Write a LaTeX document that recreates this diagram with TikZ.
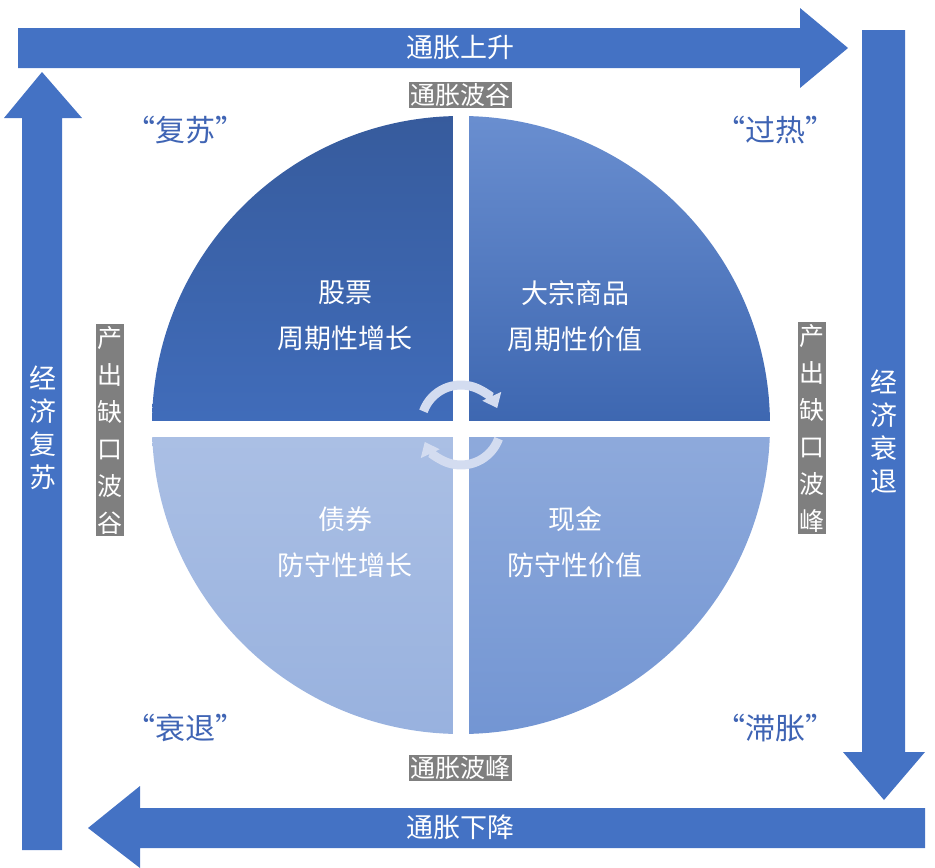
\documentclass[tikz,border=0pt]{standalone}
\usepackage{fontspec}
\setmainfont{Noto Sans CJK SC}
\usetikzlibrary{arrows.meta}
\definecolor{arrowblue}{HTML}{4472C4}
\definecolor{quoteblue}{HTML}{3F64B4}
\definecolor{tagGray}{HTML}{7F7F7F}
\definecolor{ringgray}{HTML}{D3DCF0}
\tikzset{
  bigtext/.style={text=white,font=\fontsize{27}{46}\selectfont,align=center},
  tagbox/.style={fill=tagGray,text=white,inner sep=1.5pt,font=\fontsize{25}{27}\selectfont,align=center},
  quote/.style={text=quoteblue,font=\fontsize{30}{32}\selectfont},
  vtext/.style={text=white,font=\fontsize{27}{33}\selectfont,align=center,inner sep=0pt},
  ring/.style={line width=9pt,ringgray,-{Triangle[length=13pt,width=20pt]}}
}
\begin{document}
\begin{tikzpicture}[x=1pt,y=1pt,yscale=-1]
\useasboundingbox (0,0) rectangle (935,868);
% frame arrows
\fill[arrowblue] (18,28) -- (800,28) -- (800,8) -- (848,48) -- (800,88) -- (800,68) -- (18,68) -- cycle;
\fill[arrowblue] (862,30) -- (905,30) -- (905,752) -- (925,752) -- (884,800) -- (843,752) -- (862,752) -- cycle;
\fill[arrowblue] (925,808) -- (925,848) -- (140,848) -- (140,868) -- (88,828) -- (140,786) -- (140,808) -- cycle;
\fill[arrowblue] (22,850) -- (62,850) -- (62,118) -- (82,118) -- (42,72) -- (4,118) -- (22,118) -- cycle;
\node[bigtext] (up) at (460,48) {通胀上升};
\node[bigtext] (down) at (460,827) {通胀下降};
\node[vtext] (recov) at (43,428) {经\\济\\复\\苏};
\node[vtext] (reces) at (884,432) {经\\济\\衰\\退};
% quadrants
\coordinate (c) at (461,425);
\shade[top color=arrowblue!80!black,bottom color=arrowblue!95!black] (c) -- (152,425) arc[start angle=180,end angle=270,radius=309] -- cycle;
\shade[top color=arrowblue!80,bottom color=arrowblue!90!black] (c) -- (461,116) arc[start angle=270,end angle=360,radius=309] -- cycle;
\shade[top color=arrowblue!45,bottom color=arrowblue!55] (c) -- (152,425) arc[start angle=180,end angle=90,radius=309] -- cycle;
\shade[top color=arrowblue!60,bottom color=arrowblue!75] (c) -- (770,425) arc[start angle=0,end angle=90,radius=309] -- cycle;
\fill[white] (453,100) rectangle (469,750);
\fill[white] (140,421) rectangle (780,437);
\node[bigtext] (stock) at (345,316) {股票\\周期性增长};
\node[bigtext] (comm) at (575,316) {大宗商品\\周期性价值};
\node[bigtext] (bond) at (345,542) {债券\\防守性增长};
\node[bigtext] (cash) at (575,542) {现金\\防守性价值};
% center rotation
\draw[ring] (c) ++(-160:40) arc[start angle=-160,end angle=-25,radius=40];
\draw[ring] (c) ++(20:40) arc[start angle=20,end angle=155,radius=40];
% tags
\node[tagbox] (trough) at (460,95) {通胀波谷};
\node[tagbox] (peak) at (460,768) {通胀波峰};
\node[tagbox,font=\fontsize{25}{37}\selectfont] (gapL) at (110,430) {产\\出\\缺\\口\\波\\谷};
\node[tagbox,font=\fontsize{25}{37}\selectfont] (gapR) at (812,428) {产\\出\\缺\\口\\波\\峰};
\node[quote] (q1) at (185,130) {“复苏”};
\node[quote] (q2) at (775,130) {“过热”};
\node[quote] (q3) at (185,728) {“衰退”};
\node[quote] (q4) at (775,728) {“滞胀”};
\end{tikzpicture}
\end{document}
